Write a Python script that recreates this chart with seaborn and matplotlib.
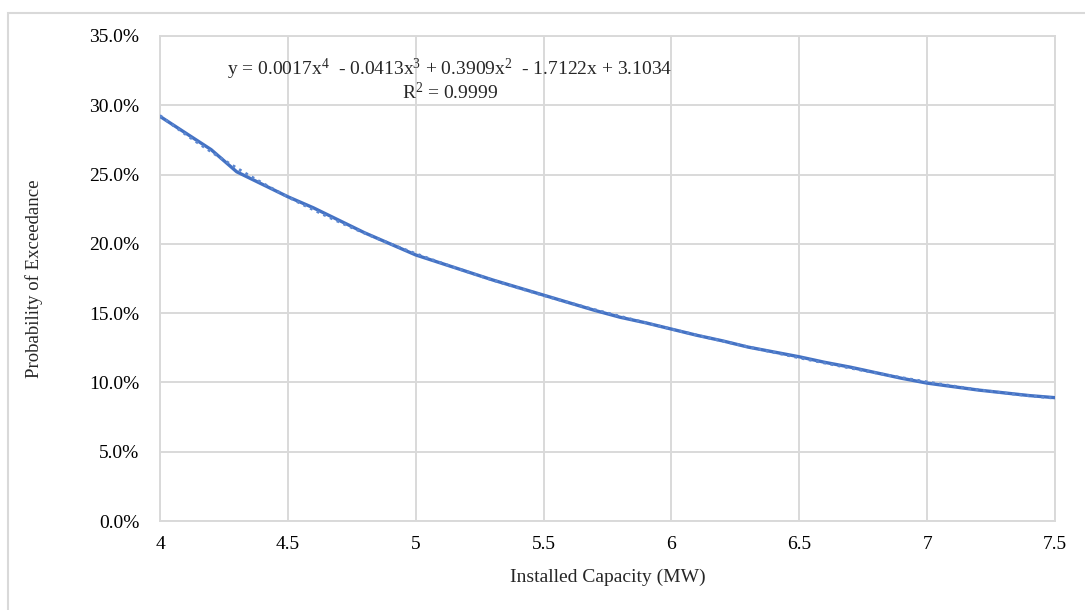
import pandas as pd
import matplotlib.pyplot as plt
import seaborn as sns
from matplotlib.patches import Rectangle
from matplotlib.ticker import PercentFormatter, MultipleLocator

capacity = [4.0, 4.1, 4.2, 4.3, 4.4, 4.5, 4.6, 4.7, 4.8, 4.9,
            5.0, 5.1, 5.2, 5.3, 5.4, 5.5, 5.6, 5.7, 5.8, 5.9,
            6.0, 6.1, 6.2, 6.3, 6.4, 6.5, 6.6, 6.7, 6.8, 6.9,
            7.0, 7.1, 7.2, 7.3, 7.4, 7.5]
exceedance = [29.2, 28.0, 26.8, 25.2, 24.3, 23.4, 22.6, 21.7, 20.8, 20.0,
              19.2, 18.6, 18.0, 17.4, 16.85, 16.3, 15.75, 15.2, 14.7, 14.3,
              13.85, 13.4, 13.0, 12.55, 12.2, 11.85, 11.45, 11.1, 10.7, 10.3,
              9.95, 9.7, 9.45, 9.25, 9.05, 8.9]
equation = ('y = 0.0017x$^{4}$  - 0.0413x$^{3}$ + 0.3909x$^{2}$  - 1.7122x + 3.1034\n'
            'R$^{2}$ = 0.9999')

df = pd.DataFrame({'cap': capacity, 'poe': exceedance})

sns.set_theme(style="white")
plt.rcParams['font.family'] = ['Liberation Serif', 'DejaVu Serif']
plt.rcParams['mathtext.fontset'] = 'custom'
plt.rcParams['mathtext.rm'] = 'Liberation Serif'
plt.rcParams['mathtext.it'] = 'Liberation Serif'
plt.rcParams['mathtext.default'] = 'regular'

grid = '#d9d9d9'
blue = '#4472C4'

f = plt.figure(figsize=(10.85, 6.1), dpi=100)
# outer chart frame (only top and left edges fall inside the image)
f.patches.append(Rectangle((8/1085, -0.05), 1.1, 1.05 - 13/610, transform=f.transFigure,
                           fill=False, edgecolor=grid, linewidth=1.5))
ax = f.add_axes([160/1085, 89/610, 895/1085, 485/610])

sns.lineplot(data=df, x='cap', y='poe', color=blue, linewidth=2.4, ax=ax, zorder=3)
sns.regplot(data=df, x='cap', y='poe', order=4, ci=None, scatter=False, ax=ax,
            line_kws={'color': '#5b86d0', 'linestyle': ':', 'linewidth': 2}, truncate=True)
ax.lines[-1].set_zorder(4)

ax.set_xlim(4, 7.5)
ax.set_ylim(0, 35)
ax.yaxis.set_major_locator(MultipleLocator(5))
ax.yaxis.set_major_formatter(PercentFormatter(100, decimals=1))
ax.set_xticks([4, 4.5, 5, 5.5, 6, 6.5, 7, 7.5], ['4', '4.5', '5', '5.5', '6', '6.5', '7', '7.5'])
ax.grid(True, color=grid, linewidth=1.4)
for s in ax.spines.values():
    s.set_color(grid)
    s.set_linewidth(1.4)
ax.tick_params(axis='x', length=0, pad=11, labelsize=14, colors='black')
ax.tick_params(axis='y', length=0, pad=15, labelsize=14, colors='black')

ax.set_xlabel('Installed Capacity (MW)', fontsize=14)
ax.set_ylabel('Probability of Exceedance', fontsize=13.5)
ax.xaxis.set_label_coords(0.5, -0.099)
ax.yaxis.set_label_coords(-0.1307, 0.5)

ax.text(0.324, 0.909, equation, transform=ax.transAxes, ha='center', va='center',
        multialignment='center', fontsize=14, linespacing=1.0)

f.savefig('out.png', dpi=100)
